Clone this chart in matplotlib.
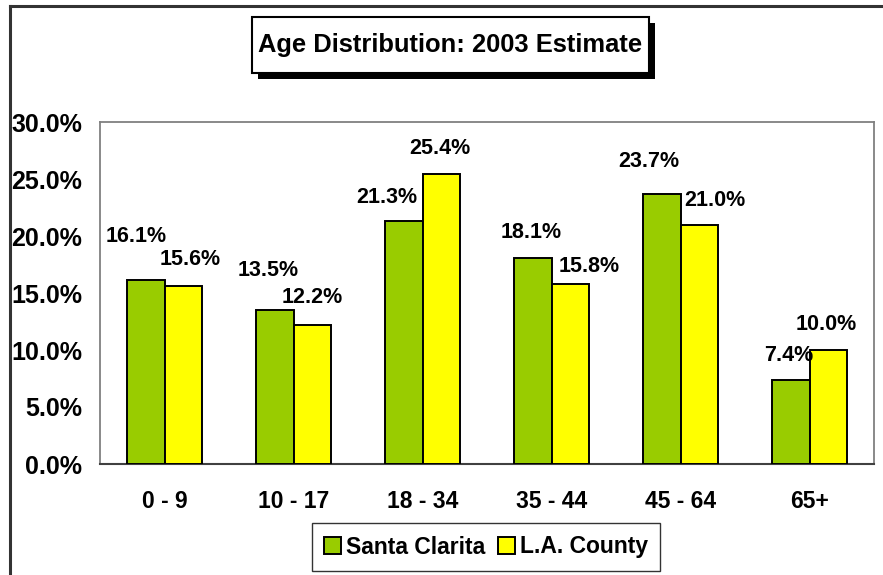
import matplotlib
matplotlib.use("Agg")
import matplotlib.pyplot as plt
from matplotlib.patches import Rectangle
from matplotlib.lines import Line2D
import numpy as np

categories = ["0 - 9", "10 - 17", "18 - 34", "35 - 44", "45 - 64", "65+"]
santa_clarita = [16.1, 13.5, 21.3, 18.1, 23.7, 7.4]
la_county = [15.6, 12.2, 25.4, 15.8, 21.0, 10.0]
series_names = ["Santa Clarita", "L.A. County"]
y_ticks = [0, 5, 10, 15, 20, 25, 30]
title = "Age Distribution: 2003 Estimate"

# label nudges (points, relative to each bar's top centre) -- styling only
sc_label_nudge = [(-6.8, 31.3), (-5, 28.8), (-12.2, 17.1), (-1, 18.4), (-9.1, 23.5), (-1.2, 17.6)]
la_label_nudge = [(4.8, 18.9), (-0.4, 19.4), (-1.2, 18.6), (13.3, 12.4), (11.1, 17.6), (-1.2, 18.1)]

plt.rcParams['font.family'] = ['Liberation Sans', 'DejaVu Sans']
plt.rcParams['font.weight'] = 'bold'

W, H = 883, 575
fig = plt.figure(figsize=(W / 100, H / 100), dpi=100)

def fx(px):
    return px / W

def fy(py):
    return 1 - py / H

# outer border (left and top visible)
fig.add_artist(Line2D([fx(10), fx(883)], [fy(6), fy(6)], color="#333333", lw=2.2))
fig.add_artist(Line2D([fx(10), fx(10)], [fy(6), fy(575)], color="#333333", lw=2.2))

ax = fig.add_axes([fx(100), fy(464), fx(874) - fx(100), fy(122) - fy(464)])

x = np.arange(len(categories))
w = 0.292
green = "#99CC00"
yellow = "#FFFF00"
b1 = ax.bar(x - w / 2, santa_clarita, w, color=green, edgecolor="black", linewidth=1.4,
            label=series_names[0], zorder=3)
b2 = ax.bar(x + w / 2, la_county, w, color=yellow, edgecolor="black", linewidth=1.4,
            label=series_names[1], zorder=3)

for rect, v, nd in zip(b1, santa_clarita, sc_label_nudge):
    ax.annotate(f"{v:.1f}%", (rect.get_x() + rect.get_width() / 2, v),
                xytext=nd, textcoords="offset points", ha="center", va="center",
                fontsize=15.5, fontweight="bold", zorder=5)
for rect, v, nd in zip(b2, la_county, la_label_nudge):
    ax.annotate(f"{v:.1f}%", (rect.get_x() + rect.get_width() / 2, v),
                xytext=nd, textcoords="offset points", ha="center", va="center",
                fontsize=15.5, fontweight="bold", zorder=5)

ax.set_xlim(-0.5, len(categories) - 0.5)
ax.set_ylim(0, 30)
ax.set_yticks(y_ticks)
ax.set_yticklabels([f"{t:.1f}%" for t in y_ticks], fontsize=18, fontweight="bold")
ax.set_xticks(x)
ax.set_xticklabels(categories, fontsize=16.5, fontweight="bold")
ax.tick_params(axis="both", length=0)
ax.tick_params(axis="y", pad=13)
ax.tick_params(axis="x", pad=19)
for s in ["left", "top", "right"]:
    ax.spines[s].set_color("#808080")
    ax.spines[s].set_linewidth(1.3)
ax.spines["bottom"].set_color("#404040")
ax.spines["bottom"].set_linewidth(1.5)

# title box with shadow
tx0, ty0, tx1, ty1 = 252, 17, 649, 73
fig.add_artist(Rectangle((fx(tx0 + 6), fy(ty1 + 6)), fx(tx1) - fx(tx0), fy(ty0) - fy(ty1),
                         transform=fig.transFigure, facecolor="black", edgecolor="black", lw=0))
fig.add_artist(Rectangle((fx(tx0), fy(ty1)), fx(tx1) - fx(tx0), fy(ty0) - fy(ty1),
                         transform=fig.transFigure, facecolor="white", edgecolor="black", lw=1.5))
fig.text(fx((tx0 + tx1) / 2), fy((ty0 + ty1) / 2), title, ha="center", va="center",
         fontsize=18.4, fontweight="bold")

leg = fig.legend(handles=[b1, b2], labels=series_names, loc="center",
                 bbox_to_anchor=(fx(486), fy(547)), ncol=2,
                 frameon=True, fancybox=False, edgecolor="black", handlelength=0.75,
                 handleheight=0.75, handletextpad=0.2, columnspacing=0.55,
                 borderpad=0.55, prop={"weight": "bold", "size": 16.5})
leg.get_frame().set_linewidth(1.0)

fig.savefig("out.png", dpi=100)
